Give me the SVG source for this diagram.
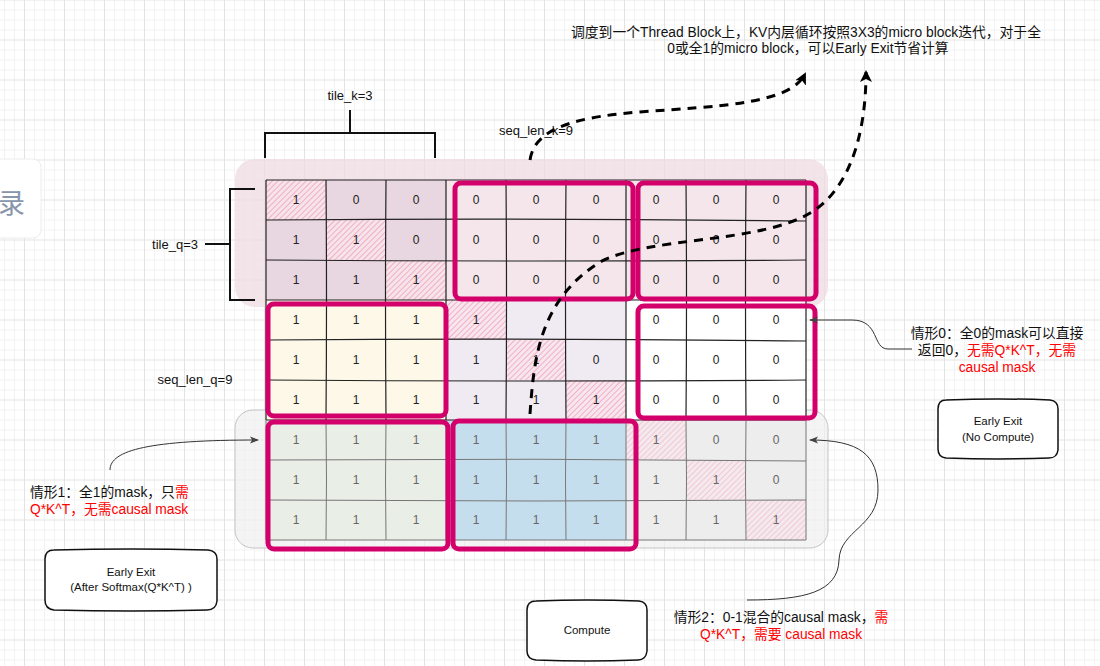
<svg xmlns="http://www.w3.org/2000/svg" width="1100" height="666" viewBox="0 0 1100 666">
<defs>
<style>
.lbl{font-family:"Liberation Sans","Noto Sans CJK SC",sans-serif;font-size:13px;fill:#111}
.cj{font-family:"Liberation Sans","Noto Sans CJK SC",sans-serif;font-size:13.8px;fill:#111}
.red{fill:#ff0000}
.c{font-family:"Liberation Sans",sans-serif;font-size:12px;fill:#222;text-anchor:middle}
.cg{font-family:"Liberation Sans",sans-serif;font-size:12px;fill:#666;text-anchor:middle}
.bx{font-family:"Liberation Sans",sans-serif;font-size:11.5px;fill:#111;text-anchor:middle}
.mg{fill:none;stroke:#d3006c;stroke-width:5}
.gl{fill:none;stroke:#222;stroke-width:1.2}
.glg{fill:none;stroke:#777;stroke-width:1}
.br{fill:none;stroke:#111;stroke-width:2}
.dash{fill:none;stroke:#000;stroke-width:3;stroke-dasharray:9 7}
.thin{fill:none;stroke:#333;stroke-width:1}
.sk{fill:#fff;stroke:#111;stroke-width:1.5}
</style>
<pattern id="grid" width="40" height="40" patternUnits="userSpaceOnUse" x="24" y="39.5">
<rect width="40" height="40" fill="#fff"/>
<rect x="10" width="1" height="40" fill="#f2f2f2"/><rect x="20" width="1" height="40" fill="#f2f2f2"/><rect x="30" width="1" height="40" fill="#f2f2f2"/>
<rect y="10" width="40" height="1" fill="#f2f2f2"/><rect y="20" width="40" height="1" fill="#f2f2f2"/><rect y="30" width="40" height="1" fill="#f2f2f2"/>
<rect x="0" width="1" height="40" fill="#e2e2e2"/><rect y="0" width="40" height="1" fill="#e2e2e2"/>
</pattern>
<pattern id="hatch" width="4" height="4" patternUnits="userSpaceOnUse" patternTransform="rotate(45)">
<line x1="0" y1="0" x2="0" y2="4" stroke="#ea7c9f" stroke-width="1"/>
</pattern>
<pattern id="hatchL" width="4" height="4" patternUnits="userSpaceOnUse" patternTransform="rotate(45)">
<line x1="0" y1="0" x2="0" y2="4" stroke="#f0a9bf" stroke-width="1"/>
</pattern>
<marker id="bigArrow" viewBox="0 0 12 12" refX="10" refY="6" markerWidth="12" markerHeight="12" markerUnits="userSpaceOnUse" orient="auto">
<path d="M0,0 L12,6 L0,12 L3,6 z" fill="#000"/>
</marker>
<marker id="smArrow" viewBox="0 0 10 10" refX="9" refY="5" markerWidth="9" markerHeight="9" markerUnits="userSpaceOnUse" orient="auto">
<path d="M0,1 L10,5 L0,9 L2.5,5 z" fill="#444"/>
</marker>
</defs>

<rect width="1100" height="666" fill="url(#grid)"/>

<g id="sidebar">
<rect x="-20" y="159" width="61" height="79" rx="8" fill="#fff" stroke="#ececec"/>
<text x="-2" y="213" font-family="'Noto Sans CJK SC',sans-serif" font-size="27" fill="#8796ad">录</text>
</g>

<g id="containers">
<rect x="235" y="159" width="593" height="148" rx="20" fill="#efdbe1" fill-opacity="0.75"/>
<rect x="235" y="410" width="593" height="138" rx="18" fill="#efefef" fill-opacity="0.7" stroke="#c4c4c4" stroke-width="1"/>
</g>

<g id="mask-top">
<rect x="266" y="180" width="180" height="120" fill="#e8d6e0"/>
<rect x="446" y="180" width="360" height="120" fill="#f4e6ea"/>
<rect x="266" y="180" width="60" height="40" fill="#f6e4ea"/><rect x="266" y="180" width="60" height="40" fill="url(#hatch)"/>
<rect x="326" y="220" width="60" height="40" fill="#f6e4ea"/><rect x="326" y="220" width="60" height="40" fill="url(#hatch)"/>
<rect x="386" y="260" width="60" height="40" fill="#f6e4ea"/><rect x="386" y="260" width="60" height="40" fill="url(#hatch)"/>
</g>
<g id="mask-mid">
<rect x="266" y="300" width="180" height="120" fill="#fdf8e8"/>
<rect x="446" y="300" width="180" height="120" fill="#f0ebf3"/>
<rect x="626" y="300" width="180" height="120" fill="#ffffff"/>
<rect x="446" y="300" width="60" height="40" fill="#f8e6ee"/><rect x="446" y="300" width="60" height="40" fill="url(#hatch)"/>
<rect x="506" y="340" width="60" height="40" fill="#f8e6ee"/><rect x="506" y="340" width="60" height="40" fill="url(#hatch)"/>
<rect x="566" y="380" width="60" height="40" fill="#f8e6ee"/><rect x="566" y="380" width="60" height="40" fill="url(#hatch)"/>
</g>
<g id="mask-bottom">
<rect x="266" y="420" width="180" height="120" fill="#e9eee7"/>
<rect x="446" y="420" width="180" height="120" fill="#c5deee"/>
<rect x="626" y="420" width="180" height="120" fill="#ededed"/>
<rect x="626" y="420" width="60" height="40" fill="#f4e9ed"/><rect x="626" y="420" width="60" height="40" fill="url(#hatchL)"/>
<rect x="686" y="460" width="60" height="40" fill="#f4e9ed"/><rect x="686" y="460" width="60" height="40" fill="url(#hatchL)"/>
<rect x="746" y="500" width="60" height="40" fill="#f4e9ed"/><rect x="746" y="500" width="60" height="40" fill="url(#hatchL)"/>
</g>

<g id="grid-lines">
<path class="gl" d="M266,180V420 M326,180Q327,300 326,420 M386,180Q385,300 386,420 M446,180V420 M506,180Q507,300 506,420 M566,180Q565,300 566,420 M626,180V420 M686,180Q687,300 686,420 M746,180Q745,300 746,420 M806,180V420"/>
<path class="gl" d="M266,180H806 M266,220Q536,218 806,221 M266,260Q536,262 806,260 M266,300H806 M266,340Q536,338 806,341 M266,380Q536,382 806,380 M266,420H806"/>
<path class="glg" d="M266,420V540 M326,420Q327,480 326,540 M386,420Q385,480 386,540 M446,420V540 M506,420Q507,480 506,540 M566,420Q565,480 566,540 M626,420V540 M686,420Q687,480 686,540 M746,420Q745,480 746,540 M806,420V540"/>
<path class="glg" d="M266,460Q536,458 806,461 M266,500Q536,502 806,500 M266,540H806"/>
</g>

<g id="cell-values">
<text class="c" x="296" y="204">1</text><text class="c" x="356" y="204">0</text><text class="c" x="416" y="204">0</text><text class="c" x="476" y="204">0</text><text class="c" x="536" y="204">0</text><text class="c" x="596" y="204">0</text><text class="c" x="656" y="204">0</text><text class="c" x="716" y="204">0</text><text class="c" x="776" y="204">0</text>
<text class="c" x="296" y="244">1</text><text class="c" x="356" y="244">1</text><text class="c" x="416" y="244">0</text><text class="c" x="476" y="244">0</text><text class="c" x="536" y="244">0</text><text class="c" x="596" y="244">0</text><text class="c" x="656" y="244">0</text><text class="c" x="716" y="244">0</text><text class="c" x="776" y="244">0</text>
<text class="c" x="296" y="284">1</text><text class="c" x="356" y="284">1</text><text class="c" x="416" y="284">1</text><text class="c" x="476" y="284">0</text><text class="c" x="536" y="284">0</text><text class="c" x="596" y="284">0</text><text class="c" x="656" y="284">0</text><text class="c" x="716" y="284">0</text><text class="c" x="776" y="284">0</text>
<text class="c" x="296" y="324">1</text><text class="c" x="356" y="324">1</text><text class="c" x="416" y="324">1</text><text class="c" x="476" y="324">1</text><text class="c" x="656" y="324">0</text><text class="c" x="716" y="324">0</text><text class="c" x="776" y="324">0</text>
<text class="c" x="296" y="364">1</text><text class="c" x="356" y="364">1</text><text class="c" x="416" y="364">1</text><text class="c" x="476" y="364">1</text><text class="c" x="536" y="364">1</text><text class="c" x="596" y="364">0</text><text class="c" x="656" y="364">0</text><text class="c" x="716" y="364">0</text><text class="c" x="776" y="364">0</text>
<text class="c" x="296" y="404">1</text><text class="c" x="356" y="404">1</text><text class="c" x="416" y="404">1</text><text class="c" x="476" y="404">1</text><text class="c" x="536" y="404">1</text><text class="c" x="596" y="404">1</text><text class="c" x="656" y="404">0</text><text class="c" x="716" y="404">0</text><text class="c" x="776" y="404">0</text>
<text class="cg" x="296" y="444">1</text><text class="cg" x="356" y="444">1</text><text class="cg" x="416" y="444">1</text><text class="cg" x="476" y="444">1</text><text class="cg" x="536" y="444">1</text><text class="cg" x="596" y="444">1</text><text class="cg" x="656" y="444">1</text><text class="cg" x="716" y="444">0</text><text class="cg" x="776" y="444">0</text>
<text class="cg" x="296" y="484">1</text><text class="cg" x="356" y="484">1</text><text class="cg" x="416" y="484">1</text><text class="cg" x="476" y="484">1</text><text class="cg" x="536" y="484">1</text><text class="cg" x="596" y="484">1</text><text class="cg" x="656" y="484">1</text><text class="cg" x="716" y="484">1</text><text class="cg" x="776" y="484">0</text>
<text class="cg" x="296" y="524">1</text><text class="cg" x="356" y="524">1</text><text class="cg" x="416" y="524">1</text><text class="cg" x="476" y="524">1</text><text class="cg" x="536" y="524">1</text><text class="cg" x="596" y="524">1</text><text class="cg" x="656" y="524">1</text><text class="cg" x="716" y="524">1</text><text class="cg" x="776" y="524">1</text>
</g>

<g id="micro-blocks">
<rect class="mg" x="455" y="183" width="178" height="116" rx="6"/>
<rect class="mg" x="638" y="183" width="178" height="116" rx="6"/>
<rect class="mg" x="268" y="304" width="178" height="112" rx="6"/>
<rect class="mg" x="638" y="306" width="177" height="112" rx="6"/>
<rect class="mg" x="268" y="422" width="180" height="127" rx="6"/>
<rect class="mg" x="453" y="421" width="183" height="128" rx="6"/>
</g>

<g id="brackets">
<path class="br" d="M350,110V133 M265,158V133H435V158"/>
<path class="br" d="M205,244H230 M255,189H230V300H255"/>
</g>

<g id="labels">
<text class="lbl" x="350" y="100" text-anchor="middle">tile_k=3</text>
<text class="lbl" x="175" y="249" text-anchor="middle">tile_q=3</text>
<text class="lbl" x="536" y="135" text-anchor="middle">seq_len_k=9</text>
<text class="lbl" x="195" y="384" text-anchor="middle">seq_len_q=9</text>
<text class="cj" x="806" y="37" text-anchor="middle">调度到一个Thread Block上，KV内层循环按照3X3的micro block迭代，对于全</text>
<text class="cj" x="808" y="53" text-anchor="middle">0或全1的micro block，可以Early Exit节省计算</text>
</g>

<g id="case0">
<text class="cj" x="997" y="338" text-anchor="middle">情形0：全0的mask可以直接</text>
<text class="cj" x="997" y="355" text-anchor="middle">返回0，<tspan class="red">无需Q*K^T，无需</tspan></text>
<text class="cj red" x="997" y="372" text-anchor="middle">causal mask</text>
</g>
<g id="case1">
<text class="cj" x="30" y="497">情形1：全1的mask，只<tspan class="red">需</tspan></text>
<text class="cj red" x="30" y="514">Q*K^T，无需causal mask</text>
</g>
<g id="case2">
<text class="cj" x="781" y="622" text-anchor="middle">情形2：0-1混合的causal mask，<tspan class="red">需</tspan></text>
<text class="cj red" x="781" y="639" text-anchor="middle">Q*K^T，需要 causal mask</text>
</g>

<g id="box-no-compute">
<path class="sk" d="M946,400 Q998,398 1050,400 Q1058,401 1058,409 L1058,450 Q1057,458 1049,458 Q998,460 946,458 Q938,457 938,449 L938,409 Q938,400 946,400 Z"/>
<text class="bx" x="998" y="425">Early Exit</text>
<text class="bx" x="998" y="441">(No Compute)</text>
</g>
<g id="box-after-softmax">
<path class="sk" d="M54,550 Q131,548 208,550 Q217,551 217,559 L217,601 Q216,610 207,610 Q131,612 54,610 Q45,609 45,600 L45,559 Q45,550 54,550 Z"/>
<text class="bx" x="131" y="576">Early Exit</text>
<text class="bx" x="131" y="591">(After Softmax(Q*K^T) )</text>
</g>
<g id="box-compute">
<path class="sk" d="M536,601 Q587,599 639,601 Q647,602 647,610 L647,651 Q646,660 638,660 Q587,662 536,660 Q527,659 527,651 L527,610 Q527,601 536,601 Z"/>
<text class="bx" x="587" y="634">Compute</text>
</g>

<g id="connectors">
<path class="thin" d="M912,349 L888,349 C872,349 880,320 852,320 L810,320" marker-end="url(#smArrow)"/>
<path class="thin" d="M110,470 C110,450 150,440 258,440" marker-end="url(#smArrow)"/>
<path class="thin" d="M747,600 C805,600 838,592 839,560 C840,530 878,527 878,490 C878,455 860,440 810,440" marker-end="url(#smArrow)"/>
<path class="dash" d="M530,160 C534,134 560,118 640,112 C720,106 790,104 805,74" marker-end="url(#bigArrow)"/>
<path class="dash" d="M530,414 C534,356 540,300 600,262 C650,236 760,244 812,212 C852,186 866,130 866,72" marker-end="url(#bigArrow)"/>
</g>
</svg>
